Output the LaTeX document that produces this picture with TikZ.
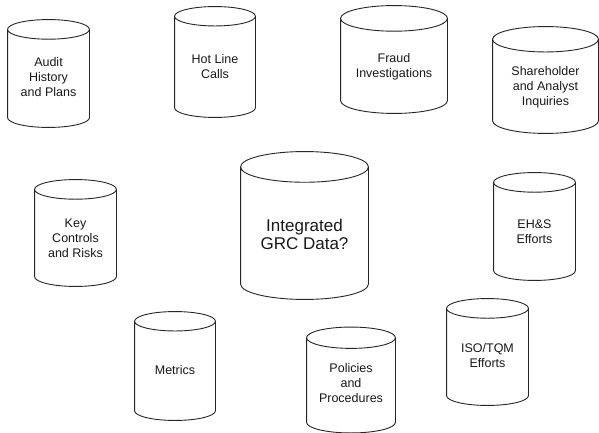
\documentclass[tikz,border=0pt]{standalone}
\usepackage{fontspec}
\setmainfont{Liberation Sans}
\usepackage{tikz}
\usetikzlibrary{calc}

\begin{document}
\begin{tikzpicture}[x=1pt, y=-1pt, line width=0.9pt, color=black!85,
      every node/.append style={align=center,font=\fontsize{12.5}{15}\selectfont,text=black!90}]
    \tikzstyle{store} = [rectangle,inner sep=0pt]
    \tikzstyle{big} = [font=\fontsize{17}{18}\selectfont]
    \useasboundingbox[fill=white] (0,0) rectangle (599,433);
    % top row
    \node (audit) [store,minimum width=81,minimum height=107] at (48.5,73.5) {};
    \node (hotline) [store,minimum width=80,minimum height=110] at (215,62) {};
    \node (fraud) [store,minimum width=106,minimum height=107] at (394,59.5) {};
    \node (holders) [store,minimum width=105,minimum height=106] at (545.5,80) {};
    % middle row
    \node (controls) [store,minimum width=81,minimum height=106] at (75.5,233) {};
    \node (grc) [store,minimum width=127,minimum height=147] at (304.5,225.5) {};
    \node (ehs) [store,minimum width=81,minimum height=107] at (534.5,226.5) {};
    % bottom row
    \node (metrics) [store,minimum width=80,minimum height=108] at (175,366) {};
    \node (policies) [store,minimum width=88,minimum height=105] at (351,380) {};
    \node (iso) [store,minimum width=81,minimum height=106] at (487.5,352) {};
    % the cylinders round each store
    \foreach \s in {audit,hotline,fraud,holders,controls,grc,ehs,metrics,policies,iso}
      \draw let \p1=(\s.north west), \p2=(\s.south east),
                \n1={(\x2-\x1)/2}, \n2={0.24*(\x2-\x1)/2} in
        (\x1,{\y1-\n2}) -- (\x1,{\y2+\n2})
        arc[start angle=180,end angle=360,x radius=\n1,y radius=\n2]
        -- (\x2,{\y1-\n2})
        arc[start angle=0,end angle=360,x radius=\n1,y radius=\n2];
    % texts, a little below the centre of each store
    \node (audit text) at ([yshift=-4pt]audit.center) {Audit\\History\\and Plans};
    \node (hotline text) at ([yshift=-5pt]hotline.center) {Hot Line\\Calls};
    \node (fraud text) at ([yshift=-7pt]fraud.center) {Fraud\\Investigations};
    \node (holders text) at ([yshift=-7pt]holders.center) {Shareholder\\and Analyst\\Inquiries};
    \node (controls text) at ([yshift=-5pt]controls.center) {Key\\Controls\\and Risks};
    \node (grc text) [big] at ([yshift=-9pt]grc.center) {Integrated\\GRC Data?};
    \node (ehs text) at ([yshift=-5pt]ehs.center) {EH\&S\\Efforts};
    \node (metrics text) at ([yshift=-4pt]metrics.center) {Metrics};
    \node (policies text) at ([yshift=-3pt]policies.center) {Policies\\and\\Procedures};
    \node (iso text) at ([yshift=-4pt]iso.center) {ISO/TQM\\Efforts};
\end{tikzpicture}
\end{document}
